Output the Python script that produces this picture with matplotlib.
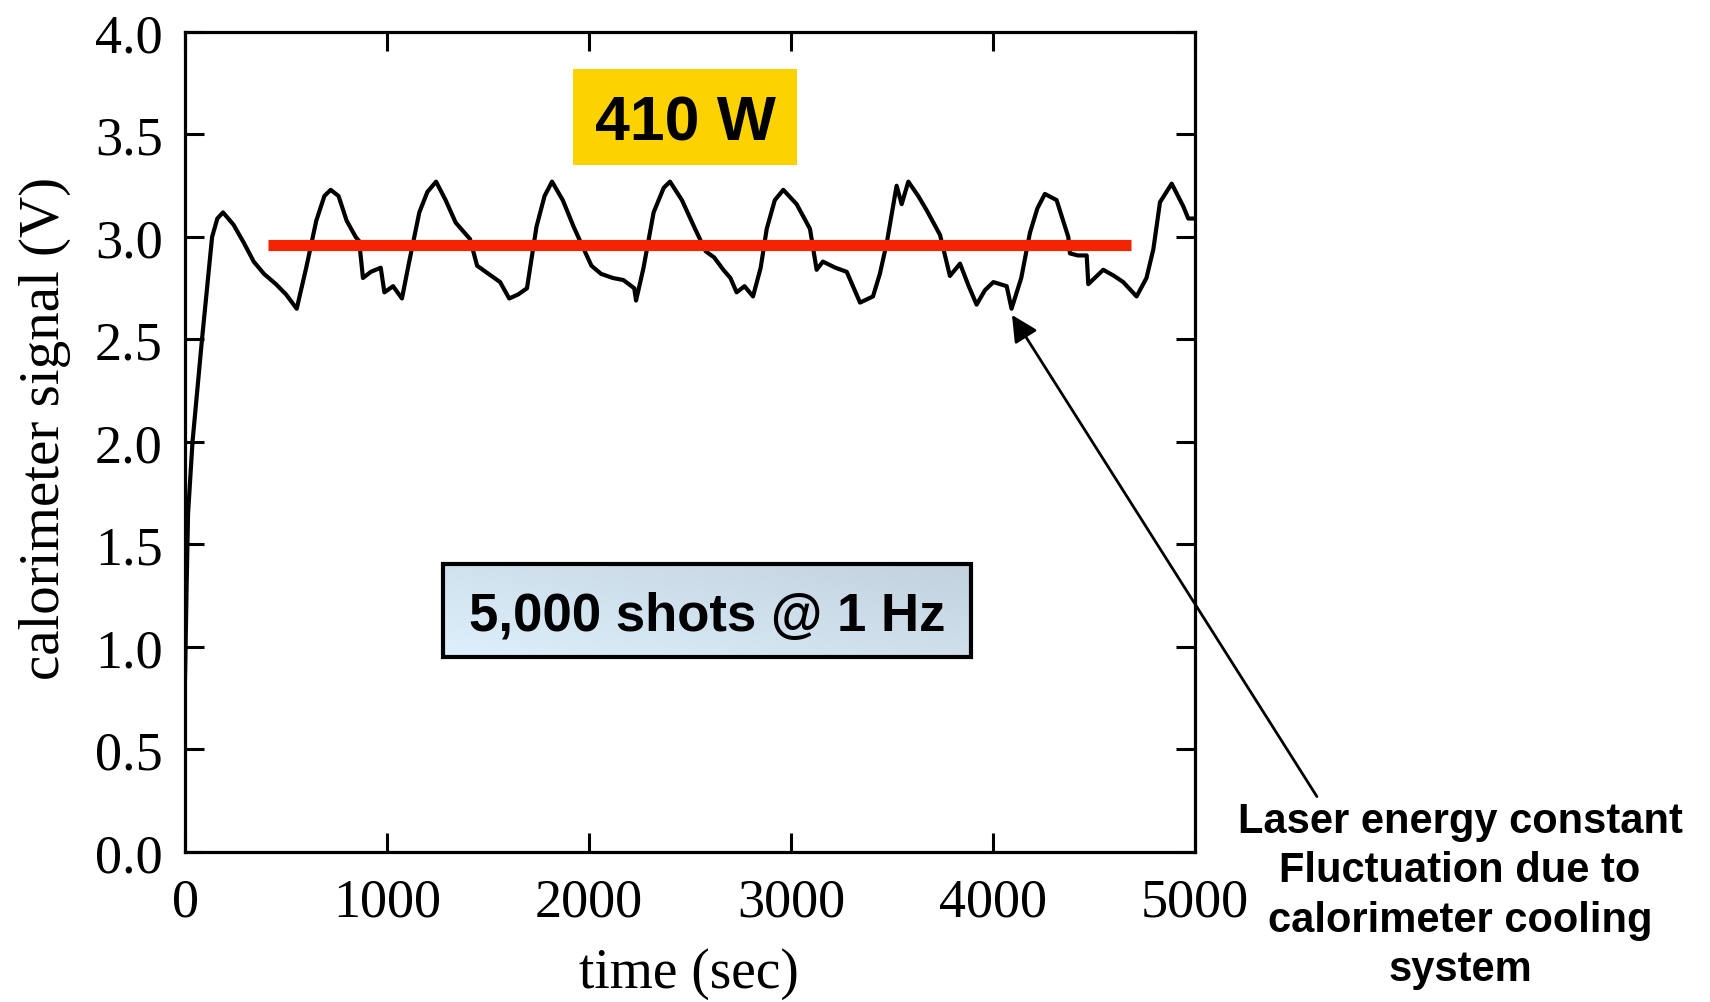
import numpy as np
import matplotlib
matplotlib.use("Agg")
import matplotlib.pyplot as plt
from matplotlib.patches import Rectangle

# calorimeter trace (time in s, signal in V)
t_sec = [0, 8, 15, 37, 84, 134, 160, 188, 240, 292, 340, 391, 450, 500, 553,
         600, 650, 690, 721, 760, 800, 845, 862, 881, 920, 969, 987, 1030, 1074,
         1110, 1160, 1200, 1243, 1290, 1340, 1411, 1446, 1517, 1560, 1605, 1650,
         1693, 1740, 1780, 1817, 1870, 1924, 1970, 2012, 2060, 2118, 2170, 2224,
         2233, 2270, 2320, 2370, 2401, 2460, 2525, 2578, 2620, 2665, 2700, 2731,
         2770, 2812, 2850, 2880, 2920, 2962, 3028, 3094, 3127, 3158, 3220, 3276,
         3342, 3406, 3440, 3474, 3523, 3548, 3581, 3630, 3672, 3738, 3787, 3837,
         3880, 3919, 3960, 4002, 4068, 4092, 4140, 4183, 4220, 4257, 4315, 4373,
         4381, 4420, 4464, 4472, 4546, 4600, 4645, 4711, 4760, 4794, 4827, 4885,
         4942, 4967, 5000]
signal = [0.85, 1.30, 1.65, 2.00, 2.50, 3.00, 3.09, 3.12, 3.06, 2.97, 2.88, 2.82,
          2.77, 2.72, 2.65,
          2.85, 3.08, 3.20, 3.23, 3.20, 3.08, 3.00, 2.98, 2.80, 2.83, 2.85, 2.73,
          2.76, 2.70,
          2.88, 3.12, 3.22, 3.27, 3.18, 3.07, 2.99, 2.86, 2.81, 2.78, 2.70, 2.72,
          2.75, 3.05, 3.20, 3.27, 3.18, 3.05, 2.95, 2.86, 2.82, 2.80, 2.79, 2.75,
          2.69, 2.85, 3.12, 3.24, 3.27, 3.18, 3.04, 2.93, 2.90, 2.84, 2.80, 2.73,
          2.76, 2.71, 2.85, 3.04, 3.18, 3.23, 3.16, 3.04, 2.84, 2.88, 2.85, 2.83,
          2.68, 2.71, 2.82, 2.97, 3.25, 3.16, 3.27, 3.20, 3.13, 3.01, 2.81, 2.87,
          2.76, 2.67, 2.74, 2.78, 2.76, 2.65, 2.80, 3.02, 3.14, 3.21, 3.18, 3.00,
          2.92, 2.91, 2.91, 2.77, 2.84, 2.81, 2.78, 2.71, 2.80, 2.94, 3.17, 3.26,
          3.15, 3.09, 3.09]

mean_x = [411, 4682]
mean_y = [2.96, 2.96]

xticks = [0, 1000, 2000, 3000, 4000, 5000]
yticks = [0.0, 0.5, 1.0, 1.5, 2.0, 2.5, 3.0, 3.5, 4.0]

serif = "Liberation Serif"
sans = "Liberation Sans"

fig = plt.figure(figsize=(17.10, 10.03), dpi=100)
ax = fig.add_axes([0.1082, 0.1496, 0.5906, 0.8175])

ax.plot(t_sec, signal, color="black", lw=3.0, zorder=3)
ax.plot(mean_x, mean_y, color="#F42300", lw=8, solid_capstyle="butt", zorder=4)

ax.set_xlim(0, 5000)
ax.set_ylim(0, 4)
ax.set_xticks(xticks)
ax.set_yticks(yticks)
ax.set_xticklabels([str(v) for v in xticks], fontfamily=serif, fontsize=39)
ax.set_yticklabels(["%.1f" % v for v in yticks], fontfamily=serif, fontsize=39)
ax.tick_params(direction="in", length=14, width=2.2, top=True, right=True)
ax.tick_params(axis="y", pad=16)
ax.tick_params(axis="x", pad=18)
for s in ax.spines.values():
    s.set_linewidth(2.3)

fig.text(0.403, 0.029, "time (sec)", fontfamily=serif, fontsize=40,
         ha="center", va="center")
fig.text(0.026, 0.573, "calorimeter signal (V)", fontfamily=serif, fontsize=41,
         rotation=90, ha="center", va="center")

# yellow power box
ax.add_patch(Rectangle((1921, 3.35), 1109, 0.47, facecolor="#FCD200",
                       edgecolor="none", zorder=5))
ax.text(2476, 3.555, "410 W", fontfamily=sans, fontweight="bold", fontsize=45,
        ha="center", va="center", zorder=6)

# gradient box with shot count
bx0, bx1, by0, by1 = 1277, 3891, 0.951, 1.405
gx, gy = np.meshgrid(np.linspace(0, 1, 200), np.linspace(0, 1, 50))
g = 0.55 * gx + 0.45 * (1 - gy)
light = np.array([0.87, 0.94, 0.99])
dark = np.array([0.76, 0.82, 0.87])
img = light[None, None, :] * (1 - g[..., None]) + dark[None, None, :] * g[..., None]
ax.imshow(img, extent=[bx0, bx1, by0, by1], aspect="auto", origin="upper", zorder=5)
ax.add_patch(Rectangle((bx0, by0), bx1 - bx0, by1 - by0, facecolor="none",
                       edgecolor="black", lw=3, zorder=6))
ax.text((bx0 + bx1) / 2, 1.15, "5,000 shots @ 1 Hz", fontfamily=sans,
        fontweight="bold", fontsize=38, ha="center", va="center", zorder=7)
ax.set_xlim(0, 5000)
ax.set_ylim(0, 4)

ax.annotate("", xy=(4094, 2.62), xytext=(5604, 0.27), xycoords="data",
            textcoords="data", annotation_clip=False,
            arrowprops=dict(arrowstyle="-|>", color="black", lw=2,
                            mutation_scale=40, shrinkA=0, shrinkB=0))

fig.text(0.8538, 0.1067,
         "Laser energy constant\nFluctuation due to\ncalorimeter cooling\nsystem",
         fontfamily=sans, fontweight="bold", fontsize=30, ha="center",
         va="center", linespacing=1.3)

fig.savefig("out.png", dpi=100)
